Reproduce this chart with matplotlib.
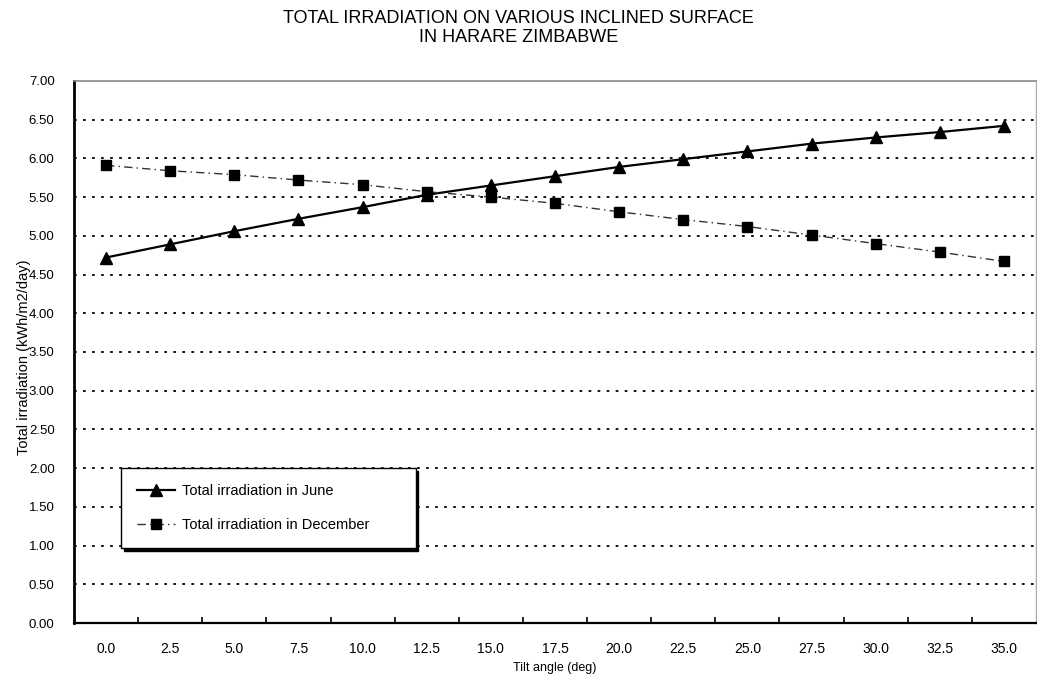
"""Total irradiation on inclined surfaces, Harare Zimbabwe."""

import matplotlib

matplotlib.use("Agg")
import matplotlib.pyplot as plt
from matplotlib.ticker import FixedLocator

plt.rcParams["font.family"] = ["Liberation Sans", "DejaVu Sans"]

tilt_labels = ["0.0", "2.5", "5.0", "7.5", "10.0", "12.5", "15.0", "17.5",
               "20.0", "22.5", "25.0", "27.5", "30.0", "32.5", "35.0"]
june = [4.72, 4.89, 5.06, 5.22, 5.37, 5.53, 5.65, 5.77,
        5.89, 5.99, 6.09, 6.19, 6.27, 6.34, 6.42]
december = [5.91, 5.84, 5.79, 5.72, 5.66, 5.57, 5.50, 5.42,
            5.31, 5.21, 5.12, 5.01, 4.90, 4.79, 4.67]
y_ticks = [0.0, 0.5, 1.0, 1.5, 2.0, 2.5, 3.0, 3.5, 4.0, 4.5, 5.0, 5.5, 6.0, 6.5, 7.0]

fig = plt.figure(figsize=(10.37, 6.86), dpi=100)
ax = fig.add_axes([0.0714, 0.0918, 0.9276, 0.7902])

x = list(range(len(tilt_labels)))

# dotted grid, 7.00 is the top border
for v in y_ticks[1:-1]:
    ax.axhline(v, color="black", linestyle=(0, (1.5, 3.5)), linewidth=1.3, zorder=1)

ax.plot(x, june, color="black", linewidth=1.6, marker="^", markersize=9,
        label="Total irradiation in June", zorder=3)
ax.plot(x, december, color="#333333", linewidth=1.0, linestyle=(0, (6, 3, 1, 3)),
        marker="s", markersize=7.5, markerfacecolor="black", markeredgecolor="black",
        label="Total irradiation in December", zorder=3)

ax.set_xlim(-0.5, len(tilt_labels) - 0.5)
ax.set_ylim(0, 7.0)
ax.set_xticks(x)
ax.set_xticklabels(tilt_labels, fontsize=10)
ax.xaxis.set_minor_locator(FixedLocator([i + 0.5 for i in x[:-1]]))
ax.tick_params(axis="x", which="major", length=0, pad=14)
ax.tick_params(axis="x", which="minor", direction="in", length=4, width=1.2)
ax.set_yticks(y_ticks)
ax.set_yticklabels([f"{v:.2f}" for v in y_ticks], fontsize=9.5)
ax.tick_params(axis="y", length=0, pad=14)

ax.spines["left"].set_linewidth(2.0)
ax.spines["bottom"].set_linewidth(1.6)
ax.spines["top"].set_color("#888888")
ax.spines["top"].set_linewidth(1.2)
ax.spines["right"].set_color("#aaaaaa")
ax.spines["right"].set_linewidth(1.0)

ax.set_xlabel("Tilt angle (deg)", fontsize=9, labelpad=4)
ax.set_ylabel("Total irradiation (kWh/m2/day)", fontsize=10.5, labelpad=8)
ax.yaxis.set_label_coords(-0.045, 0.49)

leg = ax.legend(loc="lower left", bbox_to_anchor=(0.049, 0.138, 0.306, 0.15),
                mode="expand", borderaxespad=0, fontsize=10.5,
                handlelength=2.6, handletextpad=0.5, borderpad=1.1, labelspacing=1.35,
                fancybox=False, framealpha=1, edgecolor="black",
                shadow={"color": "black", "alpha": 1})
leg.get_frame().set_linewidth(1.0)

fig.text(0.5, 0.985, "TOTAL IRRADIATION ON VARIOUS INCLINED SURFACE\nIN HARARE ZIMBABWE",
         ha="center", va="top", fontsize=13, linespacing=1.1)

fig.savefig("out.png", dpi=100)
